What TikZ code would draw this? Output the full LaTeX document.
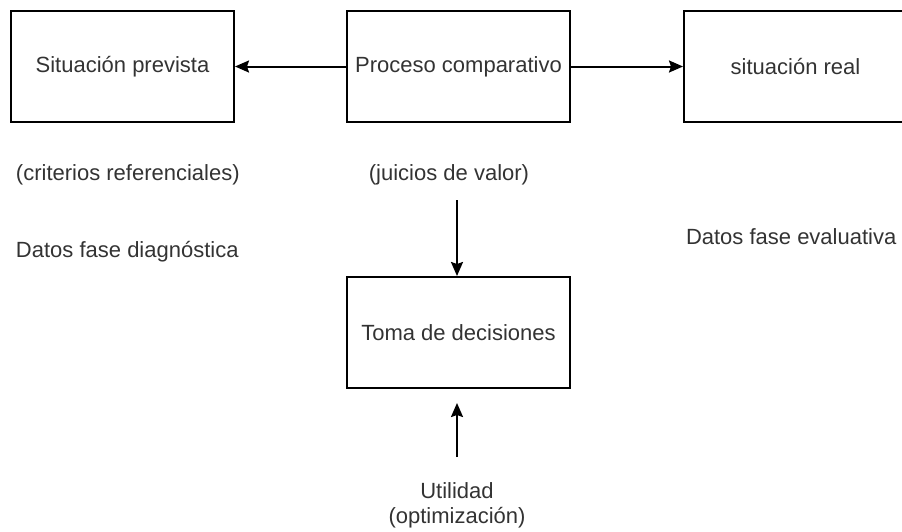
\documentclass[tikz,border=0pt]{standalone}
\usepackage{fontspec}
\setmainfont{Liberation Sans}
\usetikzlibrary{arrows.meta,positioning}

\begin{document}
\begin{tikzpicture}[x=1pt, y=-1pt, >={Stealth[length=14pt,width=12pt,inset=2pt]}, line width=2pt,
    every node/.style={font=\fontsize{22}{25}\selectfont, text=black!80}]

    \tikzstyle{caja} = [rectangle, minimum width=223pt, minimum height=111pt, text centered, draw=black, inner sep=0pt]
    \tikzstyle{nota} = [inner sep=0pt, align=center]

    \useasboundingbox (0,0) rectangle (902,531);

    \node (comparativo) [caja] at (458.5,66.5)               {Proceso comparativo};
    \node (prevista)    [caja, left=111pt of comparativo]    {Situación prevista};
    \node (real)        [caja, right=112pt of comparativo]   {situación real};
    \node (decisiones)  [caja, below=153pt of comparativo]   {Toma de decisiones};

    % textos sueltos
    \node (criterios)   [nota, anchor=west] at (15,175)  {(criterios referenciales)};
    \node (diagnostica) [nota, anchor=west] at (15,252)  {Datos fase diagnóstica};
    \node (juicios)     [nota] at (449,175)              {(juicios de valor)};
    \node (evaluativa)  [nota, anchor=west] at (685,237) {Datos fase evaluativa};
    \node (utilidad)    [nota] at (457,505)              {Utilidad\\(optimización)};

    \coordinate (juicios bajo)   at (457,200);
    \coordinate (utilidad alto)  at (457,457);
    \coordinate (decisiones bajo) at (457,403);

    \draw[->] (comparativo) -- (prevista);
    \draw[->] (comparativo) -- (real);
    \draw[->] (juicios bajo) -- (juicios bajo |- decisiones.north);
    \draw[->] (utilidad alto) -- (decisiones bajo);
\end{tikzpicture}
\end{document}
